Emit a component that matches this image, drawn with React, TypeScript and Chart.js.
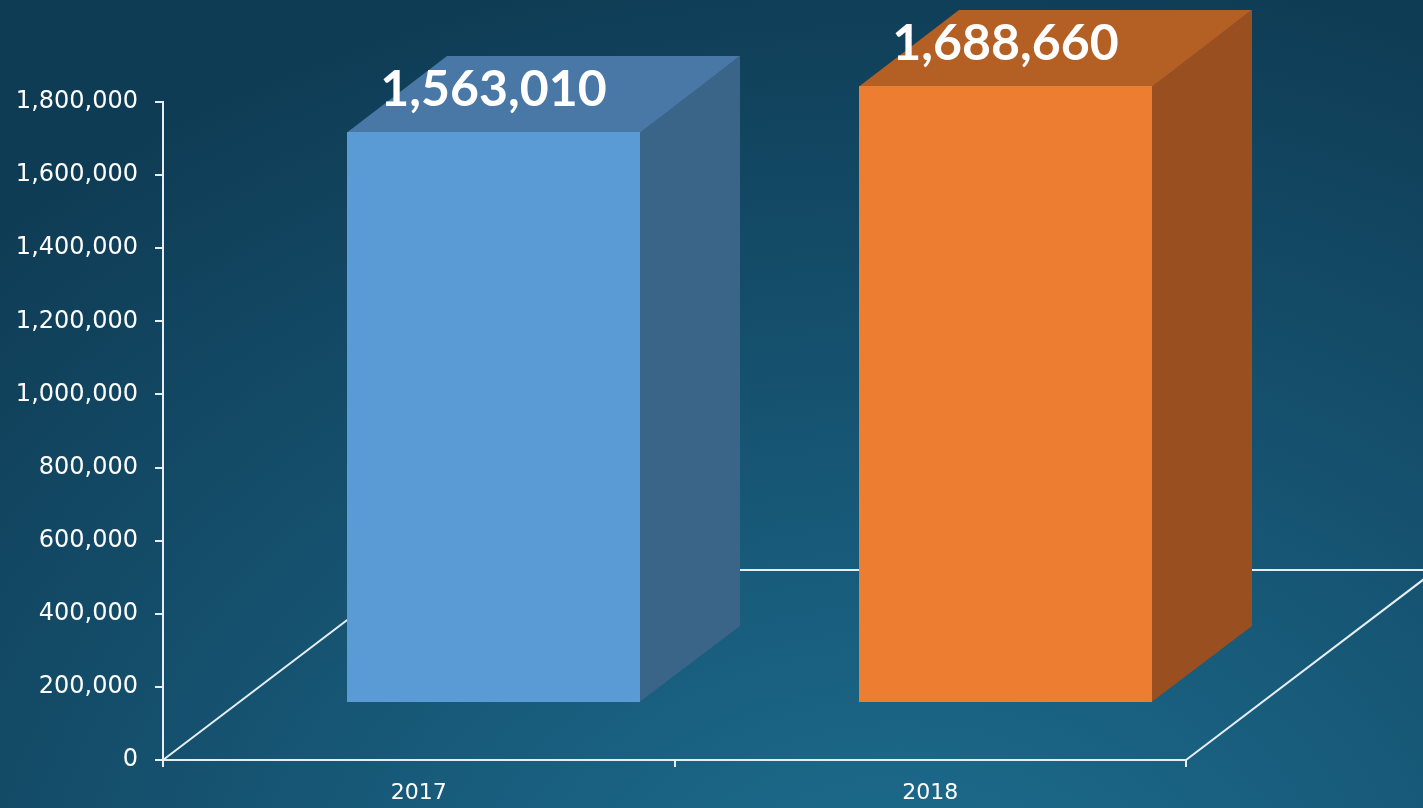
import React, { useEffect, useRef } from "react";
import { Chart, registerables } from "chart.js";

Chart.register(...registerables);

const categories = ["2017", "2018"];
const values = [1563010, 1688660];
const frontColors = ["#5b9bd5", "#ed7d31"];
const topColors = ["#4a78a6", "#b45f23"];
const sideColors = ["#3b6489", "#994f1f"];
const yMin = 0;
const yMax = 1800000;
const yStep = 200000;

const DEPTH_X = 250;
const DEPTH_Y = 190;
const BAR_DEPTH_START = 0.3;
const BAR_DEPTH_END = 0.7;

const fmt = (v: number) => Math.round(v).toLocaleString("en-US");

const floorPlugin = {
  id: "floor3d",
  beforeDatasetsDraw(chart: any) {
    const { ctx, chartArea } = chart;
    const { left, right, bottom } = chartArea;
    ctx.save();
    ctx.strokeStyle = "#e6eef3";
    ctx.lineWidth = 2;
    ctx.beginPath();
    ctx.moveTo(left, bottom);
    ctx.lineTo(left + DEPTH_X, bottom - DEPTH_Y);
    ctx.lineTo(right + DEPTH_X, bottom - DEPTH_Y);
    ctx.moveTo(right, bottom);
    ctx.lineTo(right + DEPTH_X, bottom - DEPTH_Y);
    ctx.stroke();
    ctx.restore();
  },
  afterDatasetsDraw(chart: any) {
    const { ctx } = chart;
    const meta = chart.getDatasetMeta(0);
    const ox = DEPTH_X * BAR_DEPTH_START;
    const oy = DEPTH_Y * BAR_DEPTH_START;
    const dx = DEPTH_X * (BAR_DEPTH_END - BAR_DEPTH_START);
    const dy = DEPTH_Y * (BAR_DEPTH_END - BAR_DEPTH_START);
    ctx.save();
    meta.data.forEach((el: any, i: number) => {
      const p = el.getProps(["x", "y", "base", "width"], true);
      const l = Math.round(p.x - p.width / 2 + ox);
      const r = Math.round(p.x + p.width / 2 + ox);
      const t = Math.round(p.y - oy);
      const b = Math.round(p.base - oy);
      // side
      ctx.fillStyle = sideColors[i];
      ctx.beginPath();
      ctx.moveTo(r - 0.5, t);
      ctx.lineTo(r + dx, t - dy);
      ctx.lineTo(r + dx, b - dy);
      ctx.lineTo(r - 0.5, b);
      ctx.closePath();
      ctx.fill();
      // top
      ctx.fillStyle = topColors[i];
      ctx.beginPath();
      ctx.moveTo(l, t + 0.5);
      ctx.lineTo(l + dx, t - dy);
      ctx.lineTo(r + dx, t - dy);
      ctx.lineTo(r, t + 0.5);
      ctx.closePath();
      ctx.fill();
      // front
      ctx.fillStyle = frontColors[i];
      ctx.fillRect(l, t, r - l, b - t);
      // value label
      ctx.fillStyle = "#ffffff";
      ctx.font = "bold 50px Lato";
      ctx.textAlign = "center";
      ctx.textBaseline = "middle";
      ctx.fillText(fmt(values[i]), (l + r) / 2, t - 42);
    });
    ctx.restore();
  },
};

export default function App() {
  const ref = useRef<HTMLCanvasElement | null>(null);

  useEffect(() => {
    document.body.style.margin = "0";
    if (!ref.current) return;
    const chart = new Chart(ref.current, {
      type: "bar",
      data: {
        labels: categories,
        datasets: [
          {
            data: values,
            backgroundColor: "rgba(0,0,0,0)",
            borderWidth: 0,
            barPercentage: 0.573,
            categoryPercentage: 1,
          },
        ],
      },
      options: {
        responsive: false,
        animation: false,
        layout: { padding: { top: 102, right: 237, left: 0, bottom: 0 } },
        plugins: { legend: { display: false }, tooltip: { enabled: false } },
        scales: {
          y: {
            min: yMin,
            max: yMax,
            afterFit: (s: any) => {
              s.width = 163;
            },
            ticks: {
              stepSize: yStep,
              color: "#ffffff",
              padding: 17,
              font: { family: "DejaVu Sans", size: 24 },
              callback: (v: any) => fmt(Number(v)),
            },
            grid: {
              drawOnChartArea: false,
              tickLength: 8,
              color: "#e6eef3",
              lineWidth: 2,
            },
            border: { color: "#e6eef3", width: 2 },
          },
          x: {
            afterFit: (s: any) => {
              s.height = 48;
            },
            ticks: {
              color: "#ffffff",
              padding: 13,
              font: { family: "DejaVu Sans", size: 22 },
            },
            grid: {
              offset: true,
              drawOnChartArea: false,
              tickLength: 7,
              color: "#e6eef3",
              lineWidth: 2,
            },
            border: { color: "#e6eef3", width: 2 },
          },
        },
      },
      plugins: [floorPlugin],
    });
    return () => chart.destroy();
  }, []);

  return (
    <div
      style={{
        position: "fixed",
        left: 0,
        top: 0,
        width: 1423,
        height: 808,
        background:
          "radial-gradient(ellipse 1300px 1000px at 900px 950px, #1e6f90 0%, #175877 45%, #0f3c55 100%)",
      }}
    >
      <canvas ref={ref} width={1423} height={808} style={{ display: "block" }} />
    </div>
  );
}
